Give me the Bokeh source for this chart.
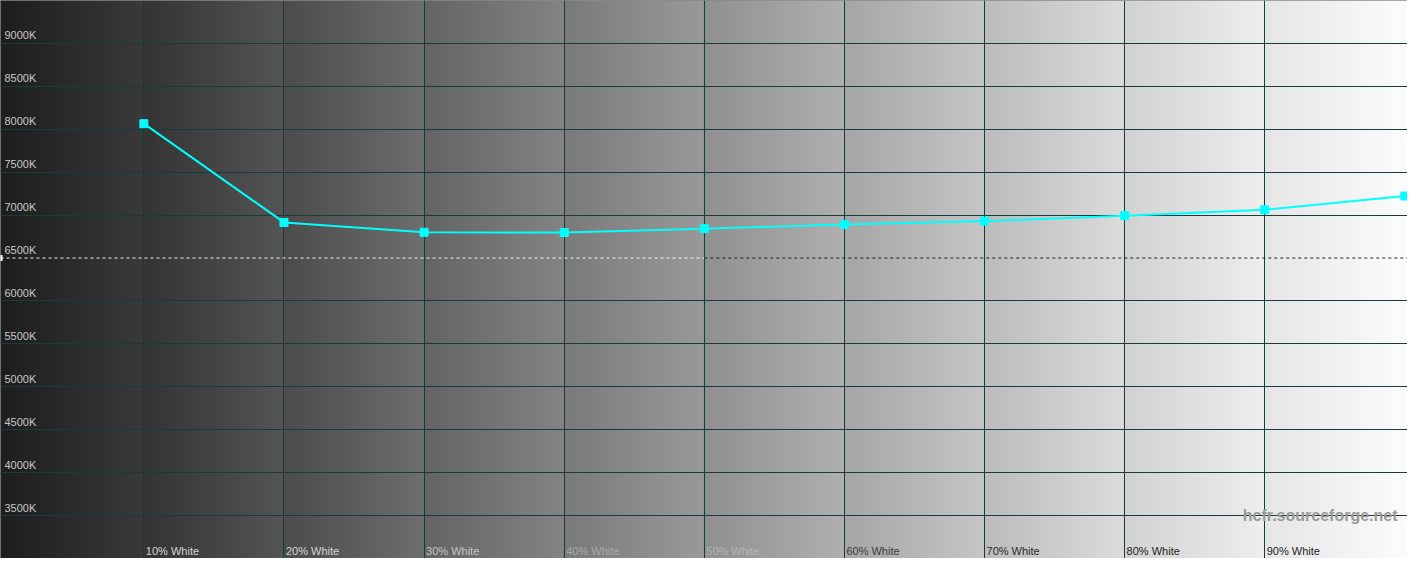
import numpy as np
from bokeh.plotting import figure
from bokeh.models import FixedTicker, ColumnDataSource, Range1d
from bokeh.core.properties import value
from bokeh.embed import file_html
from bokeh.resources import INLINE

# ---- data ----
pct = [10, 20, 30, 40, 50, 60, 70, 80, 90, 100]
cct = [8065, 6915, 6800, 6797, 6842, 6892, 6930, 6994, 7063, 7222]
x_ticks = [10, 20, 30, 40, 50, 60, 70, 80, 90]
x_labels = ["10% White", "20% White", "30% White", "40% White", "50% White",
            "60% White", "70% White", "80% White", "90% White"]
x_label_colors = ["#d4d4d4", "#d4d4d4", "#c4c4c4", "#a8a8a8", "#b4b4b4",
                  "#3a3a3a", "#2a2a2a", "#222222", "#1e1e1e"]
y_ticks = [3500, 4000, 4500, 5000, 5500, 6000, 6500, 7000, 7500, 8000, 8500, 9000]
y_labels = [f"{v}K" for v in y_ticks]
ref_cct = 6500

X0, X1 = -0.233, 100.19
Y0, Y1 = 3000, 9500

p = figure(width=1407, height=558, output_backend="svg", toolbar_location=None,
           x_range=Range1d(X0, X1), y_range=Range1d(Y0, Y1), min_border=0)
p.axis.visible = False
p.outline_line_color = "#8a8a8a"
p.background_fill_color = "#808080"

# ---- background gradient (per-column steps) ----
N = 1420
xs = np.linspace(X0, X1, N)
starts = [0x1e, 0x34, 0x4c, 0x64, 0x7a, 0x90, 0xa6, 0xbc, 0xd2, 0xe6]
ends = [0x3a, 0x55, 0x6e, 0x84, 0x9a, 0xb0, 0xc6, 0xdc, 0xee, 0xfc]
g = np.zeros(N)
for i, xv in enumerate(xs):
    c = int(min(max(np.floor(xv / 10.0), 0), 9))
    f = (xv - c * 10) / 10.0
    f = min(max(f, 0), 1)
    g[i] = starts[c] + (ends[c] - starts[c]) * f
img = np.zeros((1, N), dtype=np.uint32)
view = img.view(dtype=np.uint8).reshape((1, N, 4))
gv = np.clip(g, 0, 255).astype(np.uint8)
view[0, :, 0] = gv
view[0, :, 1] = gv
view[0, :, 2] = gv
view[0, :, 3] = 255
r = p.image_rgba(image=[img], x=X0, y=Y0, dw=X1 - X0, dh=Y1 - Y0)
r.level = "image"

# ---- grid ----
p.xgrid.ticker = FixedTicker(ticks=x_ticks)
p.ygrid.ticker = FixedTicker(ticks=[t for t in y_ticks if t != ref_cct])
p.xgrid.grid_line_color = "#173c3c"
p.ygrid.grid_line_color = "#173c3c"
p.xgrid.grid_line_width = 1
p.ygrid.grid_line_width = 1

# reference 6500K dashed line (light on dark half, dark on light half)
p.segment(x0=[X0], y0=[ref_cct], x1=[50], y1=[ref_cct], line_color="#f4f4f4",
          line_dash="3 3", line_width=1)
p.segment(x0=[50], y0=[ref_cct], x1=[X1], y1=[ref_cct], line_color="#202020",
          line_dash="3 3", line_width=1)
p.rect(x=[X0], y=[ref_cct], width=4, height=6, width_units="screen",
       height_units="screen", fill_color="#ffffff", line_color=None)

# ---- labels ----
ysrc = ColumnDataSource(dict(x=[X0] * len(y_ticks), y=y_ticks, t=y_labels))
p.text(x="x", y="y", text="t", source=ysrc, x_offset=4, y_offset=-2,
       text_baseline="bottom", text_align="left", text_color="#c8c8c8",
       text_font=value("Liberation Sans"), text_font_size="11px")

xsrc = ColumnDataSource(dict(x=x_ticks, y=[Y0] * len(x_ticks), t=x_labels, c=x_label_colors))
p.text(x="x", y="y", text="t", text_color="c", source=xsrc, x_offset=2, y_offset=-2,
       text_baseline="bottom", text_align="left",
       text_font=value("Liberation Sans"), text_font_size="11px")

# ---- series ----
p.line(pct, cct, line_color="#00ffff", line_width=2)
p.scatter(pct, cct, marker="square", size=8, fill_color="#00ffff", line_color="#00ffff")

# watermark
p.text(x=[X1], y=[3500], text=["hcfr.sourceforge.net"], x_offset=-10, y_offset=0,
       text_baseline="alphabetic", text_align="right", text_color="#9a9a9a",
       text_font=value("Liberation Sans"), text_font_style="bold", text_font_size="16px")

open("out.html", "w").write(file_html(p, INLINE))
